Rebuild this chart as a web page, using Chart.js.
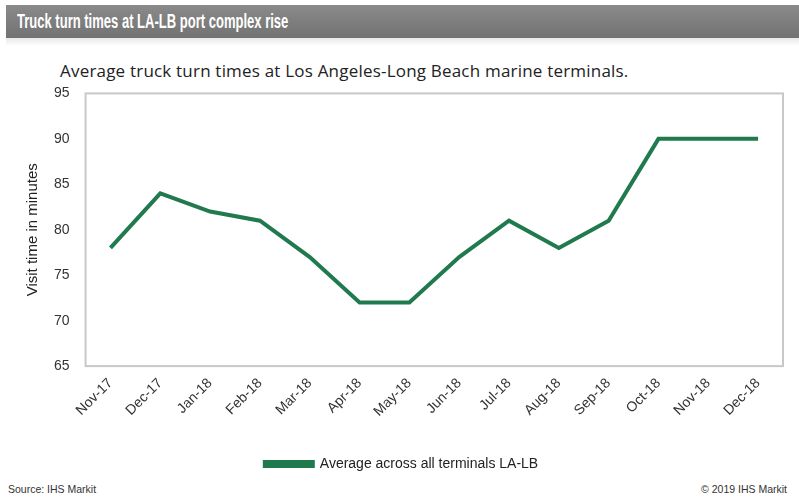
<!DOCTYPE html>
<html>
<head>
<meta charset="utf-8">
<script src="https://cdn.jsdelivr.net/npm/chart.js@4"></script>
<style>
  body { margin: 0; background: #fff; font-family: "Liberation Sans", Arial, sans-serif; }
  #page { position: relative; width: 799px; height: 497px; overflow: hidden; }
  #header { position: absolute; left: 6px; top: 5px; width: 793px; height: 33px;
            background: linear-gradient(#8a8a8a, #727272); }
  #header span { position: absolute; left: 11px; top: 4px; color: #fff; font-weight: bold;
                 font-size: 21px; white-space: nowrap; transform: scaleX(0.62); transform-origin: left center; }
  #band { position: absolute; left: 6px; top: 38px; width: 793px; height: 8px;
          background: linear-gradient(#e8e8e8, #fff); }
  #subtitle { position: absolute; left: 60px; top: 59px; font-family: "Open Sans", sans-serif;
              font-size: 17px; letter-spacing: 0.2px; color: #222; white-space: nowrap; }
  #chartbox { position: absolute; left: 0; top: 77px; width: 799px; height: 404px; }
  #source { position: absolute; left: 8px; top: 483px; font-size: 10.5px; color: #333; }
  #copy { position: absolute; right: 12px; top: 483px; font-size: 10.5px; color: #333; }
</style>
</head>
<body>
<div id="page">
  <div id="header"><span>Truck turn times at LA-LB port complex rise</span></div>
  <div id="band"></div>
  <div id="subtitle">Average truck turn times at Los Angeles-Long Beach marine terminals.</div>
  <div id="chartbox"><canvas id="view-canvas"></canvas></div>
  <div id="source">Source: IHS Markit</div>
  <div id="copy">© 2019 IHS Markit</div>
</div>
<script>
var canvas = document.getElementById('view-canvas');

// months on the x axis
var months = ['Nov-17', 'Dec-17', 'Jan-18', 'Feb-18', 'Mar-18', 'Apr-18', 'May-18',
              'Jun-18', 'Jul-18', 'Aug-18', 'Sep-18', 'Oct-18', 'Nov-18', 'Dec-18'];
// average visit time, minutes
var turnTimes = [78, 84, 82, 81, 77, 72, 72, 77, 81, 78, 81, 90, 90, 90];
var seriesName = 'Average across all terminals LA-LB';
var yTitle = 'Visit time in minutes';

var green = 'rgb(32, 122, 78)';

// plot area border
var frame = {
    id: 'frame',
    beforeDatasetsDraw(chart) {
        var a = chart.chartArea;
        var c = chart.ctx;
        c.save();
        c.strokeStyle = '#c8c8c8';
        c.lineWidth = 2;
        c.strokeRect(a.left, a.top, a.right - a.left, a.bottom - a.top);
        c.restore();
    }
};

var myChart = new Chart(canvas, {
    type: 'line',
    data: {
        labels: months,
        datasets: [{
            label: seriesName,
            data: turnTimes,
            borderColor: green,
            backgroundColor: green,
            borderWidth: 4,
            pointRadius: 0,
            tension: 0
        }]
    },
    options: {
        responsive: true,
        maintainAspectRatio: false,
        animation: false,
        layout: { padding: { left: 20, right: 16, top: 1, bottom: 0 } },
        scales: {
            x: {
                offset: true,
                grid: { display: false, drawTicks: true, tickLength: 5, color: '#c8c8c8' },
                border: { display: false },
                ticks: {
                    maxRotation: 45, minRotation: 45,
                    color: '#333',
                    padding: 4,
                    font: { family: 'Liberation Sans', size: 14 }
                }
            },
            y: {
                min: 65, max: 95,
                grid: { display: false },
                border: { display: false },
                ticks: {
                    stepSize: 5,
                    color: '#333',
                    padding: 8,
                    font: { family: 'Liberation Sans', size: 14 }
                },
                title: {
                    display: true,
                    text: yTitle,
                    color: '#222',
                    font: { family: 'Liberation Sans', size: 15 }
                }
            }
        },
        plugins: {
            legend: {
                position: 'bottom',
                labels: {
                    boxWidth: 48, boxHeight: 4,
                    color: '#222',
                    padding: 33,
                    font: { family: 'Liberation Sans', size: 14 }
                }
            },
            tooltip: { enabled: false }
        }
    },
    plugins: [frame]
});
</script>
</body>
</html>
